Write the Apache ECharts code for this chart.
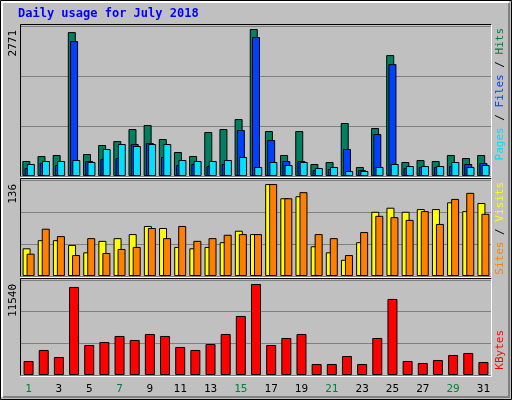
<!DOCTYPE html>
<html><head><meta charset="utf-8">
<script src="https://cdn.jsdelivr.net/npm/echarts@6/dist/echarts.min.js"></script>
<style>html,body{margin:0;padding:0;background:#C0C0C0}#c{width:512px;height:400px}</style>
</head><body><div id="c"></div>
<script>
const days = ['1','2','3','4','5','6','7','8','9','10','11','12','13','14','15','16','17','18','19','20','21','22','23','24','25','26','27','28','29','30','31'];
const weekendDays = ['1','7','8','14','15','21','22','28','29'];
const hits = [283,377,396,2713,414,584,659,885,961,697,452,377,829,885,1074,2771,848,396,848,226,264,999,170,904,2280,264,301,283,396,339,396];
const files = [151,245,207,2543,283,320,339,603,622,358,207,226,188,226,867,2619,678,283,283,113,132,509,113,791,2110,151,170,170,188,226,245];
const pages = [226,283,283,301,264,509,603,565,603,603,301,283,283,301,358,170,264,207,264,151,170,94,94,170,226,188,188,188,264,170,207];
const sites = [41,53,53,46,35,52,56,62,74,71,43,41,43,50,67,62,136,115,118,44,35,24,50,95,101,95,99,99,109,96,108];
const visits = [33,70,59,31,56,34,40,43,71,56,74,52,56,61,62,62,136,115,124,62,56,31,65,89,87,83,96,77,114,123,92];
const kbytes = [1777,3173,2284,11167,3807,4188,4949,4442,5203,4949,3553,3173,3934,5203,7487,11540,3807,4695,5203,1396,1396,2411,1396,4695,9644,1777,1523,1904,2538,2792,1650];
const maxLabels = ['2771','136','11540'];

const font = '"DejaVu Sans Mono", monospace';
const ch = echarts.init(document.getElementById('c'));
const grids = [{left:21,right:21,top:26,height:150},{left:21,right:21,top:180,height:96},{left:21,right:21,top:280,height:95}];
const maxes = [2828,142,12047];
const ed = {lineStyle:{color:'#000',width:1}};
function xa(i){return {type:'category',gridIndex:i,data:days,axisTick:{show:false},axisLine:{show:false},
  axisLabel:{show:i===2,margin:9,fontFamily:font,fontSize:11,color:(v)=>weekendDays.includes(v)?'#008040':'#000'}};}
function ya(i){return {type:'value',gridIndex:i,min:0,max:maxes[i],interval:maxes[i]/3,axisLabel:{show:false},
  axisLine:{show:false},axisTick:{show:false},splitLine:{lineStyle:{color:'#808080',width:1}}};}
function bar(d,c,xi,w,extra){return Object.assign({type:'bar',data:d,xAxisIndex:xi,yAxisIndex:xi,barWidth:w,
  itemStyle:{color:c,borderColor:'#000',borderWidth:1},animation:false,silent:true},extra||{});}
function vtext(x,y,parts){ // rotated text bottom-to-top
  return {type:'text',x:x,y:y,rotation:Math.PI/2,style:{rich:{},text:'',fontFamily:font,fontSize:11}};}
const graphics = [
  {type:'rect',shape:{x:0.5,y:0.5,width:511,height:399},style:{fill:'none',stroke:'#000',lineWidth:1}},
  {type:'polyline',shape:{points:[[2,397],[2,2],[509,2]]},style:{stroke:'#fff',lineWidth:2,fill:'none'}},
  {type:'polyline',shape:{points:[[3,397],[509,397],[509,3]]},style:{stroke:'#808080',lineWidth:2,fill:'none'}},
  {type:'text',x:18,y:8,style:{text:'Daily usage for July 2018',fill:'#0000FF',font:'bold 12px '+font}}
];
grids.forEach((g,i)=>{
  const b=g.top+g.height;
  graphics.push({type:'polyline',z:-1,shape:{points:[[20.5,b+0.5],[20.5,g.top-1.5],[491.5,g.top-1.5]]},style:{stroke:'#000',fill:'none',lineWidth:1}});
  graphics.push({type:'polyline',z:-1,shape:{points:[[20.5,b+1.5],[491.5,b+1.5],[491.5,g.top-1.5]]},style:{stroke:'#fff',fill:'none',lineWidth:1}});
  graphics.push({type:'text',x:8,y:g.top+4,rotation:Math.PI/2,style:{text:maxLabels[i],fill:'#000',font:'11px '+font,align:'right',verticalAlign:'top'}});
});
function rlab(y,items){ // rotated label, read bottom to top; y is top position of the text end
  const rich={};const parts=[];
  items.forEach((it,k)=>{rich['s'+k]={fill:it[1],font:'11px '+font};parts.push('{s'+k+'|'+it[0]+'}');});
  return {type:'text',x:495,y:y,rotation:Math.PI/2,style:{text:parts.join(''),rich:rich,align:'right',verticalAlign:'top'}};
}
graphics.push(rlab(28,[['Pages','#00E0FF'],[' / ','#000'],['Files','#0040FF'],[' / ','#000'],['Hits','#008040']]));
graphics.push(rlab(182,[['Sites','#FF8000'],[' / ','#000'],['Visits','#FFFF00']]));
graphics.push(rlab(330,[['KBytes','#FF0000']]));
ch.setOption({
  animation:false,
  grid:grids,
  xAxis:[xa(0),xa(1),xa(2)],
  yAxis:[ya(0),ya(1),ya(2)],
  series:[
    bar(hits,'#008060',0,8,{barGap:'-72%'}),
    bar(files,'#0040FF',0,8,{barGap:'-72%'}),
    bar(pages,'#00E0FF',0,8,{barGap:'-72%'}),
    bar(sites,'#FFFF00',1,8,{barGap:'-50%'}),
    bar(visits,'#FF8000',1,8,{barGap:'-50%'}),
    bar(kbytes,'#FF0000',2,10)
  ],
  graphic:graphics
});
</script></body></html>
